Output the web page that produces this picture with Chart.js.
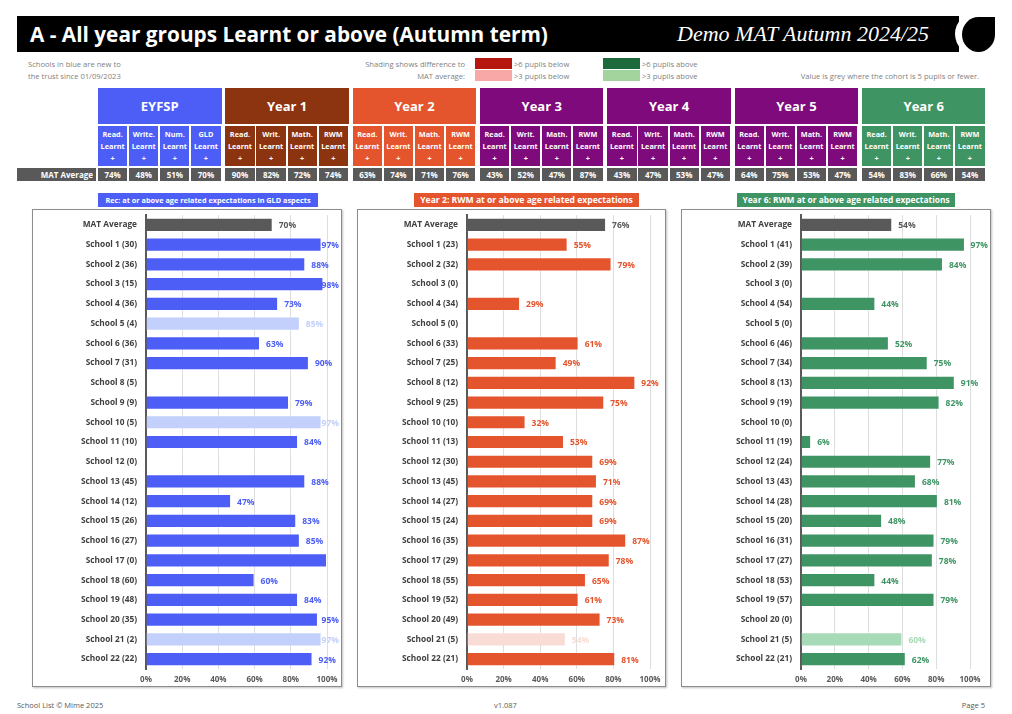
<!DOCTYPE html>
<html>
<head>
<meta charset="utf-8">
<script src="https://cdn.jsdelivr.net/npm/chart.js@4.4.1/dist/chart.umd.min.js"></script>
<style>
  body { margin: 0; background: #fff; font-family: "Open Sans", sans-serif; }
  #page { position: relative; width: 1012px; height: 714px; overflow: hidden; }
  .abs { position: absolute; }
  .titlebar { left: 17px; top: 16px; width: 942px; height: 36px; background: #000; }
  .title { left: 30px; top: 16px; height: 36px; line-height: 36px; color: #fff; font-weight: bold; font-size: 20.8px; white-space: nowrap; }
  .subtitle { right: 83px; top: 16px; height: 36px; line-height: 36px; color: #fff; font-family: "Liberation Serif", serif; font-style: italic; font-size: 22px; white-space: nowrap; }
  .ring { left: 955px; top: 12px; width: 46px; height: 44px; border-radius: 50%; background: #fff; }
  .logo { left: 962px; top: 17px; width: 33px; height: 35px; background: #000; border-radius: 50% 0 50% 50%; }
  .note { font-size: 7.6px; color: #7f7f7f; white-space: nowrap; line-height: 12px; }
  .swatch { width: 37px; height: 11px; }
  .grp { height: 36px; color: #fff; font-weight: bold; font-size: 13px; text-align: center; line-height: 36px; }
  .sub { height: 40px; color: #fff; font-weight: bold; font-size: 7.3px; text-align: center; line-height: 12px; padding-top: 2px; box-sizing: border-box; }
  .mat { height: 13px; background: #595959; color: #fff; font-weight: bold; font-size: 8px; text-align: center; line-height: 13px; }
  .panel { border: 1px solid #8c8c8c; box-shadow: 1px 1px 2px rgba(0,0,0,0.25); box-sizing: border-box; background: #fff; }
  .ptitle { height: 14px; line-height: 14px; color: #fff; font-weight: bold; text-align: center; white-space: nowrap; }
  .foot { top: 699px; font-size: 7.5px; color: #595959; line-height: 12px; }
</style>
</head>
<body>
<div id="page">
  <div class="abs titlebar"></div>
  <div class="abs title">A - All year groups Learnt or above (Autumn term)</div>
  <div class="abs subtitle">Demo MAT Autumn 2024/25</div>
  <div class="abs ring"></div>
  <div class="abs logo"></div>

  <div class="abs note" style="left:28px; top:58px;">Schools in blue are new to<br>the trust since 01/09/2023</div>
  <div class="abs note" style="right:547px; top:58px; text-align:right;">Shading shows difference to<br>MAT average:</div>
  <div class="abs swatch" style="left:475px; top:58px; background:#b5170e;"></div>
  <div class="abs swatch" style="left:475px; top:70px; background:#f9a8a8;"></div>
  <div class="abs note" style="left:514px; top:58px;">&gt;6 pupils below<br>&gt;3 pupils below</div>
  <div class="abs swatch" style="left:603px; top:58px; background:#1d6b3c;"></div>
  <div class="abs swatch" style="left:603px; top:70px; background:#a3d49d;"></div>
  <div class="abs note" style="left:642px; top:58px;">&gt;6 pupils above<br>&gt;3 pupils above</div>
  <div class="abs note" style="right:33px; top:70px;">Value is grey where the cohort is 5 pupils or fewer.</div>

  <div id="table"></div>

  <div class="abs panel" style="left:32px; top:209px; width:310px; height:478px;"><div style="position:absolute; left:0; top:0; width:308px; height:476px;"><canvas id="gldChart"></canvas></div></div>
  <div class="abs panel" style="left:357px; top:209px; width:309px; height:478px;"><div style="position:absolute; left:0; top:0; width:307px; height:476px;"><canvas id="y2Chart"></canvas></div></div>
  <div class="abs panel" style="left:681px; top:209px; width:310px; height:478px;"><div style="position:absolute; left:0; top:0; width:308px; height:476px;"><canvas id="y6Chart"></canvas></div></div>

  <div class="abs ptitle" style="left:98px; top:193px; width:220px; font-size:7.3px; background:#4c5ef6;">Rec: at or above age related expectations in GLD aspects</div>
  <div class="abs ptitle" style="left:414px; top:193px; width:225px; font-size:8.6px; background:#e5552d;">Year 2: RWM at or above age related expectations</div>
  <div class="abs ptitle" style="left:737px; top:193px; width:218px; font-size:8.4px; background:#3f9464;">Year 6: RWM at or above age related expectations</div>

  <div class="abs foot" style="left:17px;">School List © Mime 2025</div>
  <div class="abs foot" style="left:494px;">v1.087</div>
  <div class="abs foot" style="right:27px;">Page 5</div>
</div>

<script>
// Year group summary table
var yearGroups = ['EYFSP', 'Year 1', 'Year 2', 'Year 3', 'Year 4', 'Year 5', 'Year 6'];
var eyfsSubjects = ['Read.', 'Write.', 'Num.', 'GLD'];
var yearSubjects = ['Read.', 'Writ.', 'Math.', 'RWM'];
var matAverages = [
    [74, 48, 51, 70],
    [90, 82, 72, 74],
    [63, 74, 71, 76],
    [43, 52, 47, 87],
    [43, 47, 53, 47],
    [64, 75, 53, 47],
    [54, 83, 66, 54]
];
var groupColours = ['#4c5ef6', '#8c3310', '#e5552d', '#7e0a7b', '#7e0a7b', '#7e0a7b', '#3f9464'];

// Rec GLD chart
var gldCohorts = [30, 36, 15, 36, 4, 36, 31, 5, 9, 5, 10, 0, 45, 12, 26, 27, 0, 60, 48, 35, 2, 22];
var gldValues = [97, 88, 98, 73, 85, 63, 90, null, 79, 97, 84, null, 88, 47, 83, 85, 100, 60, 84, 95, 97, 92];
var gldMat = 70;

// Year 2 RWM chart
var y2Cohorts = [23, 32, 0, 34, 0, 33, 25, 12, 25, 10, 13, 30, 45, 27, 24, 35, 29, 55, 52, 49, 5, 21];
var y2Values = [55, 79, null, 29, null, 61, 49, 92, 75, 32, 53, 69, 71, 69, 69, 87, 78, 65, 61, 73, 54, 81];
var y2Mat = 76;

// Year 6 RWM chart
var y6Cohorts = [41, 39, 0, 54, 0, 46, 34, 13, 19, 0, 19, 24, 43, 28, 20, 31, 27, 53, 57, 0, 5, 21];
var y6Values = [97, 84, null, 44, null, 52, 75, 91, 82, null, 6, 77, 68, 81, 48, 79, 78, 44, 79, null, 60, 62];
var y6Mat = 54;

var xTicks = [0, 20, 40, 60, 80, 100];

// build the header table
var table = document.getElementById('table');
function addDiv(cls, left, top, width, html, bg) {
    var d = document.createElement('div');
    d.className = 'abs ' + cls;
    d.style.left = left + 'px';
    d.style.top = top + 'px';
    d.style.width = width + 'px';
    if (bg) d.style.background = bg;
    d.innerHTML = html;
    table.appendChild(d);
    return d;
}
var lbl = addDiv('mat', 17, 168, 79, 'MAT Average', null);
lbl.style.textAlign = 'right';
lbl.style.paddingRight = '3px';
lbl.style.boxSizing = 'border-box';
yearGroups.forEach(function (g, gi) {
    var gx = 98 + gi * 127.33;
    addDiv('grp', gx, 88, 123.5, g, groupColours[gi]);
    var subs = gi === 0 ? eyfsSubjects : yearSubjects;
    subs.forEach(function (s, si) {
        var sx = gx + si * 31.1;
        addDiv('sub', sx, 126, 29.3, s + '<br>Learnt<br>+', groupColours[gi]);
        addDiv('mat', sx, 168, 29.3, matAverages[gi][si] + '%', null);
    });
});

Chart.defaults.font.family = '"Open Sans", sans-serif';

function schoolChart(canvasId, cohorts, values, mat, colour, light, axisX, padRight) {
    var labels = ['MAT Average'];
    var data = [mat];
    var colours = ['#595959'];
    var show = [true];
    cohorts.forEach(function (c, i) {
        labels.push('School ' + (i + 1) + ' (' + c + ')');
        data.push(values[i]);
        colours.push(c > 0 && c <= 5 ? light : colour);
        show.push(c !== 0);
    });

    // value labels at the end of each bar
    var valueLabels = {
        id: 'valueLabels',
        afterDatasetsDraw: function (chart) {
            var ctx = chart.ctx;
            var meta = chart.getDatasetMeta(0);
            ctx.save();
            ctx.font = 'bold 8.5px "Open Sans"';
            ctx.textBaseline = 'middle';
            meta.data.forEach(function (bar, i) {
                var v = data[i];
                if (v == null || !show[i]) return;
                var txt = v + '%';
                var w = ctx.measureText(txt).width;
                var x = Math.min(bar.x + 6, chart.width - w - 2);
                ctx.fillStyle = colours[i];
                ctx.fillText(txt, x, bar.y + 1);
            });
            ctx.restore();
        }
    };

    return new Chart(document.getElementById(canvasId), {
        type: 'bar',
        data: {
            labels: labels,
            datasets: [{
                data: data,
                backgroundColor: colours,
                borderColor: 'rgba(255,255,255,0.35)',
                borderWidth: 1,
                barPercentage: 0.72,
                categoryPercentage: 1
            }]
        },
        options: {
            indexAxis: 'y',
            responsive: true,
            maintainAspectRatio: false,
            animation: false,
            layout: { padding: { top: 5, right: padRight, left: 0, bottom: 0 } },
            scales: {
                x: {
                    min: 0,
                    max: 100,
                    afterBuildTicks: function (scale) {
                        scale.ticks = xTicks.map(function (v) { return { value: v }; });
                    },
                    afterFit: function (scale) {
                        scale.height = 17;
                        scale.paddingLeft = 0;
                        scale.paddingRight = 0;
                    },
                    grid: { color: '#dedede', drawTicks: false },
                    border: { display: false },
                    ticks: {
                        padding: 6,
                        color: '#595959',
                        font: { size: 8, weight: 'bold' },
                        callback: function (value) { return value + '%'; }
                    }
                },
                y: {
                    afterFit: function (scale) {
                        scale.width = axisX;
                        scale.paddingTop = 0;
                        scale.paddingBottom = 0;
                    },
                    grid: { display: false, drawTicks: false },
                    border: { color: '#595959', width: 2 },
                    ticks: {
                        padding: 9,
                        color: '#404040',
                        autoSkip: false,
                        font: { size: 8.3, weight: 'bold' }
                    }
                }
            },
            plugins: {
                legend: { display: false },
                tooltip: { enabled: false }
            }
        },
        plugins: [valueLabels]
    });
}

schoolChart('gldChart', gldCohorts, gldValues, gldMat, '#4c5ef6', '#c2d0fb', 113, 14);
schoolChart('y2Chart', y2Cohorts, y2Values, y2Mat, '#e5552d', '#f8dcd5', 109, 15);
schoolChart('y6Chart', y6Cohorts, y6Values, y6Mat, '#3f9464', '#a7dab6', 119, 20);
</script>
</body>
</html>
